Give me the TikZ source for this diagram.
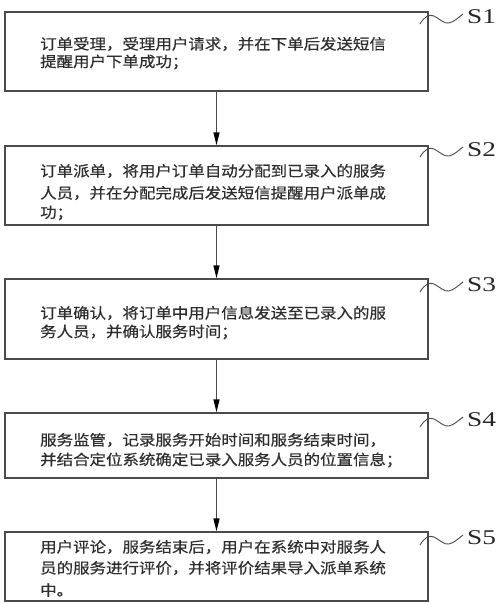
\documentclass[tikz,border=0pt]{standalone}
\usepackage{fontspec}
\usetikzlibrary{arrows.meta}
\newfontfamily\cjk[FakeStretch=1.12,FakeBold=0.4]{Noto Sans CJK SC}
\newfontfamily\latlab[FakeStretch=1.3]{Liberation Serif}
\definecolor{boxline}{HTML}{4A4A4A}
\definecolor{txt}{HTML}{2E2E2E}
\tikzset{
  stepbox/.style={draw=boxline, line width=1.4pt, minimum width=423pt, inner sep=0pt},
  line/.style={anchor=west, inner sep=0pt, text=txt, font=\cjk\fontsize{14.7}{18}\selectfont},
  slabel/.style={anchor=west, inner sep=0pt, text=black!85, font=\latlab\fontsize{21}{22}\selectfont},
  arr/.style={draw=boxline, line width=1.4pt, -{Triangle[length=13pt,width=6pt,black]}},
  wave/.style={draw=boxline, line width=0.9pt}
}
\begin{document}
\begin{tikzpicture}[x=1pt,y=-1pt]
\useasboundingbox (0,0) rectangle (500,603);
\fill[white] (0,0) rectangle (500,603);

% boxes
\node[stepbox, minimum height=79pt] (b1) at (216.5,51.5) {};
\node[stepbox, minimum height=79pt] (b2) at (216.5,185.5) {};
\node[stepbox, minimum height=80pt] (b3) at (216.5,319) {};
\node[stepbox, minimum height=65pt] (b4) at (216.5,445.5) {};
\node[stepbox, minimum height=69pt] (b5) at (216.5,566.5) {};

% texts
\node[line] (t1a) at (40,44) {订单受理，受理用户请求，并在下单后发送短信};
\node[line] (t1b) at (40,62) {提醒用户下单成功；};

\node[line] (t2a) at (40,171) {订单派单，将用户订单自动分配到已录入的服务};
\node[line] (t2b) at (40,193) {人员，并在分配完成后发送短信提醒用户派单成};
\node[line] (t2c) at (40,213) {功；};

\node[line] (t3a) at (40,313) {订单确认，将订单中用户信息发送至已录入的服};
\node[line] (t3b) at (40,332) {务人员，并确认服务时间；};

\node[line] (t4a) at (40,440) {服务监管，记录服务开始时间和服务结束时间，};
\node[line] (t4b) at (40,460) {并结合定位系统确定已录入服务人员的位置信息；};

\node[line] (t5a) at (40,547) {用户评论，服务结束后，用户在系统中对服务人};
\node[line] (t5b) at (40,568) {员的服务进行评价，并将评价结果导入派单系统};
\node[line] (t5c) at (40,590) {中。};

% arrows
\draw[arr] (b1.south) -- (b2.north);
\draw[arr] (b2.south) -- (b3.north);
\draw[arr] (b3.south) -- (b4.north);
\draw[arr] (b4.south) -- (b5.north);

% step labels with wavy leaders
\foreach \n/\yl in {1/17, 2/150, 3/285, 4/420, 5/538}{
  \node[slabel] (s\n) at (467,\yl) {S\n};
  \coordinate (w\n) at (420,\yl+7);
  \draw[wave] (w\n) .. controls ++(5,-8) and ++(-5,-2) .. ++(14,-8)
     .. controls ++(6,3) and ++(-5,1) .. ++(15,7)
     .. controls ++(5,-1) and ++(-4,3) .. ++(14,-9);
}
\end{tikzpicture}
\end{document}
